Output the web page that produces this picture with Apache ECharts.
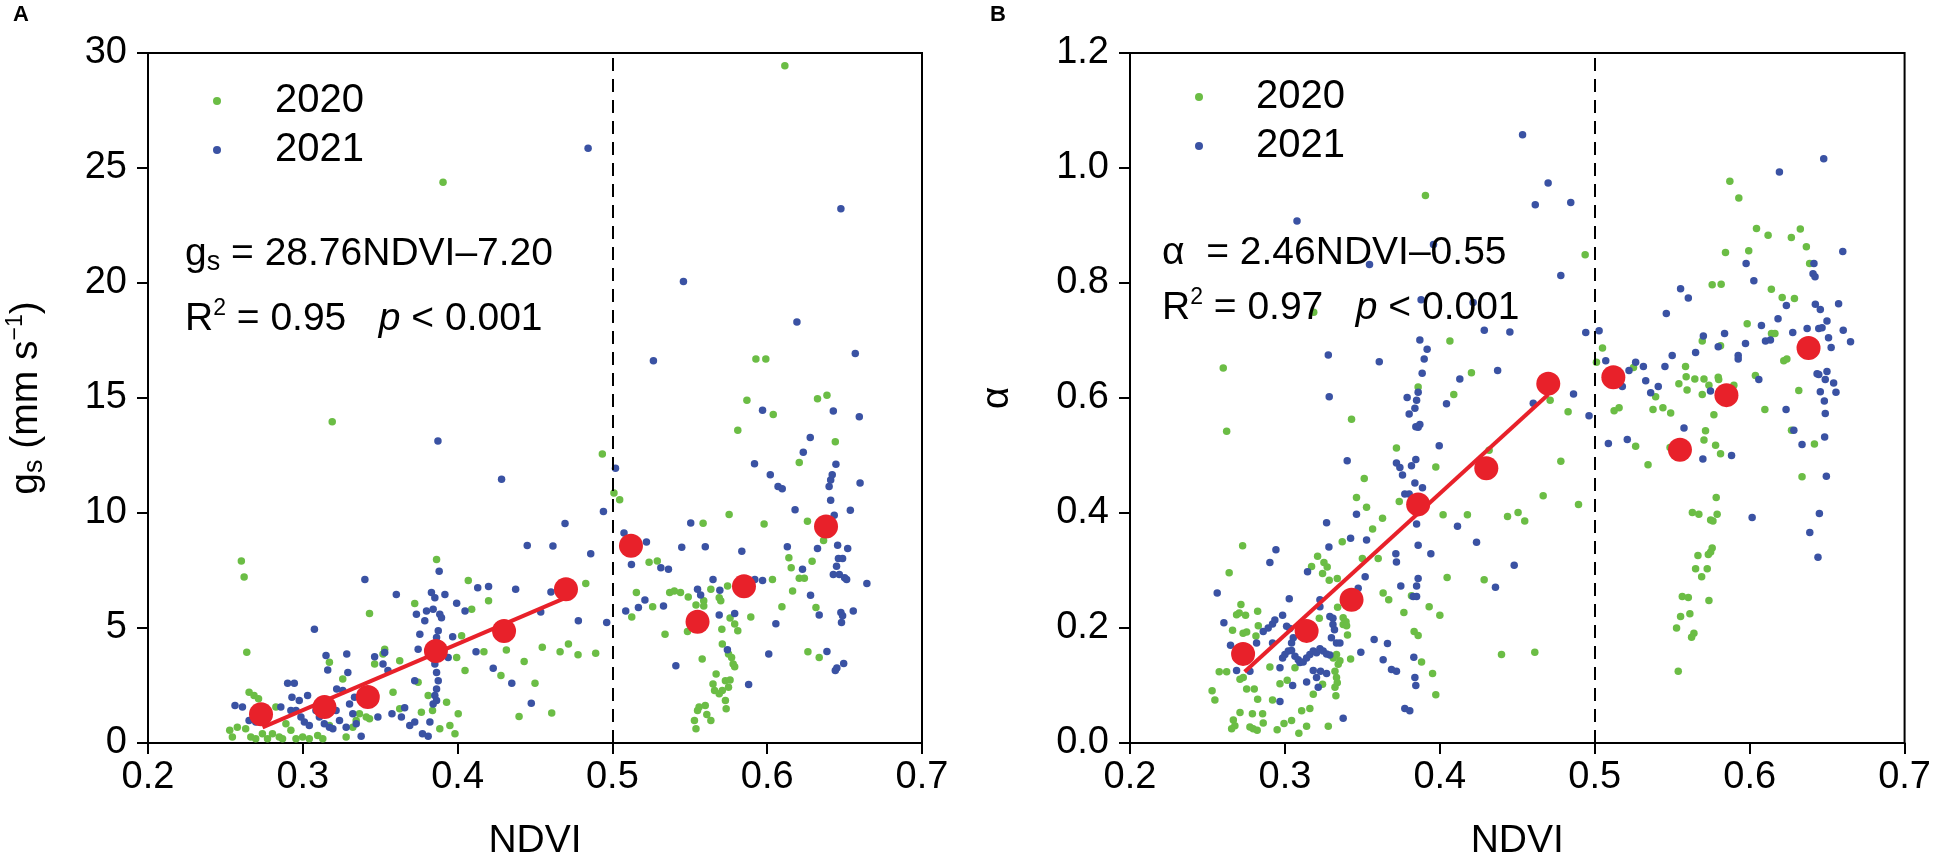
<!DOCTYPE html>
<html>
<head>
<meta charset="utf-8">
<script src="https://cdn.jsdelivr.net/npm/echarts@6/dist/echarts.min.js"></script>
<style>
html, body { margin: 0; padding: 0; background: #fff; }
#chart { width: 1934px; height: 866px; }
</style>
</head>
<body>
<div id="chart"></div>
<script>
// panel A: gs against NDVI, [ndvi, gs]
var gs2020 = [
  [0.2603,7.91],[0.2621,7.22],[0.2638,3.95],[0.2528,0.55],[0.2545,0.26],[0.2577,0.69],[0.2631,0.62],[0.2653,2.21],
  [0.2685,2.06],[0.2714,1.92],[0.2664,0.26],[0.2696,0.19],[0.2739,0.40],[0.2772,0.19],[0.2804,0.40],[0.2848,0.26],
  [0.2869,0.19],[0.2826,1.56],[0.2891,0.84],[0.2923,0.55],[0.2956,0.19],[0.2999,0.26],[0.3042,0.19],[0.3096,0.33],
  [0.3129,0.19],[0.3172,0.76],[0.3172,3.51],[0.3258,2.78],[0.328,0.26],[0.3323,0.69],[0.3345,0.98],[0.3366,1.27],
  [0.341,1.13],[0.3431,1.05],[0.3431,5.63],[0.3464,3.43],[0.3518,3.87],[0.3529,4.08],[0.3583,2.21],[0.3626,3.58],
  [0.3626,1.49],[0.3723,6.06],[0.3745,2.64],[0.3766,1.34],[0.381,2.06],[0.3838,1.41],[0.3864,7.98],[0.3885,0.62],
  [0.3929,1.77],[0.395,0.76],[0.3983,0.40],[0.3994,3.72],[0.4004,1.27],[0.4026,4.66],[0.4048,3.15],[0.4069,7.07],
  [0.4091,5.82],[0.3906,24.38],[0.319,13.97],
  [0.4935,12.57],[0.501,10.87],[0.5047,10.58],[0.4828,6.94],[0.420,6.18],[0.417,3.97],[0.4315,4.04],[0.428,2.93],
  [0.4397,1.15],[0.443,3.54],[0.450,2.6],[0.4547,4.16],[0.4608,1.30],[0.4662,3.97],[0.4716,4.30],[0.4778,3.84],
  [0.4892,3.9],[0.5125,5.48],[0.5155,6.54],[0.5237,7.86],[0.529,7.91],[0.526,5.92],[0.534,4.73],[0.537,6.54],
  [0.540,6.61],[0.544,6.54],[0.549,6.35],[0.5485,4.85],[0.554,6.0],[0.559,6.18],[0.559,5.96],[0.5586,9.55],
  [0.558,3.65],[0.5636,6.68],[0.569,6.32],[0.570,6.18],[0.5707,4.95],[0.5744,6.83],[0.576,5.43],[0.579,5.17],
  [0.581,4.88],[0.571,4.3],[0.575,3.87],[0.577,3.72],[0.578,3.43],[0.579,3.32],[0.567,3.0],[0.565,2.57],
  [0.566,2.28],[0.569,2.14],[0.571,2.28],[0.575,2.42],[0.573,2.71],[0.576,2.74],[0.573,1.85],[0.5735,1.49],
  [0.560,1.63],[0.555,1.41],[0.556,1.56],[0.561,1.24],[0.5636,0.98],[0.553,0.98],[0.554,0.62],[0.5754,9.93],
  [0.5894,5.48],[0.598,9.52],[0.6034,7.11],[0.6095,5.92],[0.614,8.05],[0.6155,7.62],[0.6164,6.61],[0.6207,7.16],
  [0.624,7.16],[0.6207,12.2],[0.626,9.64],[0.629,7.9],[0.6315,5.89],[0.6263,3.97],[0.6336,3.72],[0.6364,8.80],
  [0.644,13.1],[0.6114,29.45],[0.5927,16.7],[0.5991,16.7],[0.5869,14.9],[0.6039,14.28],[0.6325,14.97],[0.6386,15.12],
  [0.581,13.6]
];
var gs2021 = [
  [0.2562,1.63],[0.261,1.56],[0.2653,0.98],[0.2696,0.91],[0.2858,1.56],[0.2902,2.60],[0.2945,2.60],[0.293,1.99],
  [0.2923,1.41],[0.2956,1.41],[0.2977,1.85],[0.2988,1.13],[0.301,0.91],[0.3031,2.06],[0.3042,0.76],[0.3075,4.95],
  [0.3085,1.41],[0.3107,1.13],[0.3139,0.84],[0.315,3.80],[0.3161,3.17],[0.3172,0.69],[0.3194,0.62],[0.3215,1.41],
  [0.3219,2.35],[0.3237,0.98],[0.3258,2.28],[0.328,0.69],[0.3284,3.87],[0.3291,3.07],[0.3302,1.70],[0.3323,1.27],
  [0.3334,1.99],[0.3345,0.84],[0.3377,0.29],[0.3401,7.11],[0.3464,3.75],[0.3485,1.13],[0.3518,3.43],[0.3529,3.94],
  [0.355,3.15],[0.3576,1.27],[0.3604,6.46],[0.3637,1.13],[0.3658,1.53],[0.3691,0.76],[0.3723,0.91],[0.3723,2.71],
  [0.3734,5.60],[0.3745,4.08],[0.3756,4.73],[0.3773,0.40],[0.3788,5.31],[0.3799,5.74],[0.381,0.29],[0.3821,0.91],
  [0.3831,6.54],[0.3842,5.82],[0.3853,6.32],[0.3864,4.59],[0.3875,4.88],[0.3881,7.47],[0.3885,5.60],[0.3896,5.45],
  [0.3918,6.46],[0.3842,3.87],[0.3853,3.43],[0.3864,3.07],[0.3875,2.71],[0.3864,2.35],[0.3853,2.06],[0.3842,1.70],
  [0.3864,1.85],[0.3939,3.72],[0.3968,4.62],[0.3994,6.08],[0.4048,5.74],[0.4119,3.97],[0.413,6.75],[0.3873,13.13],
  [0.4284,11.47],[0.420,6.8],[0.4375,6.68],[0.4537,5.7],[0.4603,6.57],[0.445,8.59],[0.4616,8.56],[0.4694,9.54],
  [0.478,5.31],[0.486,8.23],[0.4942,10.07],[0.4963,5.24],[0.423,3.25],[0.435,2.6],[0.4476,1.73],[0.502,11.95],
  [0.5075,9.13],[0.522,8.74],[0.5123,7.76],[0.5313,7.62],[0.5362,7.55],[0.5086,5.74],[0.5168,5.89],[0.521,6.22],
  [0.533,5.96],[0.541,3.36],[0.5448,8.51],[0.5506,9.57],[0.555,6.68],[0.557,6.44],[0.560,8.53],[0.565,7.11],
  [0.5694,6.64],[0.569,5.56],[0.579,5.63],[0.5743,4.05],[0.5836,8.34],[0.588,2.54],[0.5918,12.14],[0.592,7.11],
  [0.597,7.07],[0.601,3.87],[0.602,11.66],[0.6056,5.19],[0.607,11.15],[0.6097,11.05],[0.613,8.53],[0.618,10.14],
  [0.6228,7.55],[0.6233,12.64],[0.6278,13.28],[0.628,6.42],[0.6325,8.46],[0.6336,5.57],[0.6386,3.98],[0.641,10.55],
  [0.640,11.15],[0.641,11.44],[0.642,11.66],[0.6444,12.12],[0.6433,9.9],[0.6455,8.6],[0.646,8.02],[0.6487,8.02],
  [0.6448,7.69],[0.6427,7.33],[0.6466,7.33],[0.650,7.19],[0.6513,7.11],[0.652,8.46],[0.6537,10.12],[0.6476,5.67],
  [0.6487,5.53],[0.648,5.24],[0.6556,5.74],[0.6494,3.46],[0.644,3.15],[0.645,3.26],[0.660,11.3],[0.6644,6.94],
  [0.4843,25.86],[0.6476,23.23],[0.5459,20.07],[0.6192,18.3],[0.5265,16.62],[0.6569,16.94],[0.597,14.47],[0.6427,14.43],
  [0.6595,14.18]
];
var gsMeans = [
  [0.273,1.25],[0.314,1.56],[0.342,2.0],[0.386,4.0],[0.430,4.87],
  [0.470,6.68],[0.512,8.58],[0.555,5.27],[0.585,6.81],[0.638,9.41]
];
var gsFit = [[0.274,0.68],[0.470,6.32]];

// panel B: alpha against NDVI, [ndvi, alpha]
var alpha2020 = [
  [0.2624,0.542],[0.2727,0.343],[0.264,0.296],[0.253,0.091],[0.2548,0.075],[0.2576,0.124],[0.2624,0.124],[0.2662,0.196],
  [0.2716,0.241],[0.2688,0.223],[0.2705,0.226],[0.2746,0.222],[0.273,0.191],[0.2753,0.193],[0.2824,0.229],[0.2828,0.204],
  [0.2813,0.186],[0.271,0.111],[0.2731,0.114],[0.2753,0.094],[0.2802,0.094],[0.2824,0.076],[0.271,0.053],[0.2667,0.04],
  [0.2677,0.03],[0.2656,0.025],[0.2774,0.028],[0.2795,0.025],[0.2821,0.022],[0.286,0.035],[0.279,0.051],[0.2856,0.051],
  [0.2903,0.132],[0.292,0.075],[0.295,0.023],[0.2968,0.103],[0.2994,0.034],[0.3043,0.039],[0.3015,0.109],[0.3065,0.131],
  [0.3108,0.056],[0.3161,0.06],[0.314,0.029],[0.309,0.017],[0.3172,0.307],[0.3211,0.325],[0.3252,0.314],[0.3273,0.306],
  [0.3243,0.295],[0.3286,0.283],[0.3338,0.286],[0.3222,0.217],[0.328,0.029],[0.3312,0.148],[0.3333,0.154],[0.3344,0.137],
  [0.3355,0.143],[0.3323,0.125],[0.3333,0.114],[0.3338,0.105],[0.3323,0.097],[0.3329,0.082],[0.337,0.35],[0.334,0.236],
  [0.3376,0.218],[0.3394,0.211],[0.3376,0.206],[0.3398,0.204],[0.3404,0.188],[0.3424,0.146],[0.3183,0.085],[0.3243,0.102],
  [0.3462,0.427],[0.3512,0.46],[0.3527,0.41],[0.3566,0.372],[0.35,0.321],[0.3602,0.321],[0.363,0.391],[0.3634,0.261],
  [0.367,0.249],[0.372,0.513],[0.3738,0.42],[0.3768,0.227],[0.3817,0.256],[0.3834,0.194],[0.386,0.187],[0.3882,0.141],
  [0.3931,0.237],[0.3953,0.121],[0.3974,0.084],[0.3974,0.48],[0.4,0.222],[0.4021,0.397],[0.4047,0.288],[0.4178,0.397],
  [0.4286,0.284],[0.4318,0.509],[0.4398,0.154],[0.4437,0.394],[0.4505,0.401],[0.4548,0.386],[0.4613,0.158],[0.4667,0.43],
  [0.4781,0.49],[0.4895,0.415],[0.5264,0.516],[0.5344,0.484],[0.5486,0.514],[0.5715,0.543],[0.5705,0.527],[0.578,0.518],
  [0.5812,0.503],[0.5784,0.427],[0.563,0.401],[0.5672,0.398],[0.579,0.398],[0.5748,0.388],[0.5763,0.386],[0.5758,0.339],
  [0.5748,0.332],[0.5733,0.328],[0.5666,0.326],[0.5651,0.303],[0.5726,0.303],[0.569,0.289],[0.5565,0.255],[0.5604,0.253],
  [0.5737,0.248],[0.5614,0.225],[0.5554,0.22],[0.5528,0.2],[0.564,0.191],[0.5625,0.184],[0.5539,0.125],[0.627,0.544],
  [0.6418,0.52],[0.6338,0.463],
  [0.5758,0.797],[0.5816,0.798],[0.614,0.789],[0.621,0.775],[0.6289,0.773],[0.5984,0.729],[0.6141,0.712],[0.6163,0.712],
  [0.5694,0.699],[0.5812,0.691],[0.505,0.687],[0.5011,0.662],[0.525,0.653],[0.5586,0.655],[0.559,0.637],[0.5646,0.633],
  [0.5705,0.633],[0.5543,0.625],[0.5596,0.614],[0.5737,0.622],[0.5797,0.636],[0.58,0.632],[0.5694,0.606],[0.5898,0.622],
  [0.6037,0.639],[0.622,0.665],[0.624,0.668],[0.6317,0.613],[0.6098,0.58],[0.5125,0.578],[0.5157,0.583],[0.5376,0.58],
  [0.544,0.583],[0.549,0.574],[0.5393,0.602],[0.5769,0.571],[0.4712,0.596],[0.4828,0.576],
  [0.5872,0.977],[0.593,0.948],[0.6044,0.895],[0.6119,0.883],[0.6327,0.894],[0.6269,0.879],[0.6366,0.863],[0.5844,0.853],
  [0.5994,0.856],[0.6387,0.834],[0.4938,0.849],
  [0.3907,0.952],[0.3186,0.749],[0.2602,0.652],[0.343,0.563],[0.4065,0.699],[0.4204,0.644],[0.409,0.606],[0.386,0.619]
];
var alpha2021 = [
  [0.2563,0.261],[0.2606,0.209],[0.2649,0.17],[0.2688,0.126],[0.2774,0.125],[0.2817,0.174],[0.286,0.194],[0.2892,0.2],
  [0.292,0.207],[0.2935,0.214],[0.2903,0.314],[0.2942,0.336],[0.292,0.174],[0.2968,0.131],[0.2985,0.148],[0.3,0.154],
  [0.3022,0.16],[0.3043,0.161],[0.3065,0.151],[0.3086,0.145],[0.3097,0.14],[0.3118,0.141],[0.314,0.148],[0.3161,0.154],
  [0.3183,0.16],[0.3204,0.157],[0.3226,0.164],[0.3247,0.16],[0.3269,0.155],[0.329,0.153],[0.2985,0.222],[0.3011,0.203],
  [0.3032,0.199],[0.3054,0.183],[0.3043,0.174],[0.3028,0.251],[0.305,0.1],[0.2968,0.072],[0.314,0.106],[0.3146,0.298],
  [0.3183,0.126],[0.3215,0.097],[0.3204,0.114],[0.323,0.125],[0.3269,0.121],[0.3226,0.249],[0.3226,0.237],[0.3269,0.383],
  [0.3284,0.341],[0.329,0.22],[0.331,0.217],[0.331,0.206],[0.332,0.197],[0.33,0.183],[0.3333,0.174],[0.3355,0.174],
  [0.3376,0.043],[0.3402,0.491],[0.3424,0.356],[0.3473,0.269],[0.349,0.158],[0.3518,0.289],[0.3527,0.353],[0.3462,0.398],
  [0.3576,0.18],[0.3634,0.145],[0.3662,0.173],[0.3688,0.128],[0.372,0.125],[0.3716,0.329],[0.372,0.315],[0.3748,0.273],
  [0.372,0.487],[0.3742,0.479],[0.3759,0.466],[0.3774,0.433],[0.3802,0.433],[0.3817,0.482],[0.3845,0.493],[0.386,0.549],
  [0.3839,0.452],[0.3888,0.444],[0.385,0.381],[0.386,0.344],[0.386,0.286],[0.385,0.273],[0.3828,0.255],[0.385,0.255],
  [0.3832,0.149],[0.3839,0.114],[0.3845,0.1],[0.3774,0.06],[0.3806,0.056],[0.3942,0.329],[0.3996,0.517],[0.4114,0.377],
  [0.4237,0.349],[0.4359,0.271],[0.448,0.309],
  [0.5088,0.521],[0.521,0.528],[0.5576,0.548],[0.5698,0.494],[0.5883,0.5],[0.6016,0.392],[0.6285,0.544],[0.6338,0.519],
  [0.6484,0.532],[0.6495,0.464],[0.645,0.399],[0.6388,0.366],[0.6441,0.323],
  [0.5554,0.79],[0.5604,0.774],[0.5462,0.747],[0.6027,0.804],[0.6574,0.764],[0.6424,0.763],[0.6456,0.754],[0.6237,0.761],
  [0.6183,0.738],[0.6499,0.734],[0.6076,0.726],[0.6278,0.714],[0.6371,0.721],[0.6446,0.721],[0.6467,0.722],[0.6604,0.718],
  [0.6509,0.705],[0.6526,0.688],[0.6651,0.698],[0.6102,0.699],[0.6134,0.701],[0.5973,0.695],[0.5838,0.712],[0.5701,0.708],
  [0.5797,0.689],[0.5651,0.679],[0.55,0.674],[0.5926,0.674],[0.5926,0.668],[0.5028,0.717],[0.4942,0.714],[0.4287,0.718],
  [0.4452,0.715],[0.5071,0.665],[0.5221,0.648],[0.5264,0.662],[0.5314,0.655],[0.5453,0.655],[0.5329,0.63],[0.5361,0.609],
  [0.541,0.62],[0.5178,0.62],[0.5747,0.612],[0.6059,0.632],[0.6435,0.642],[0.6446,0.641],[0.6499,0.646],[0.6488,0.632],
  [0.6542,0.626],[0.6557,0.61],[0.6456,0.611],[0.6482,0.595],[0.6488,0.573],[0.6235,0.58],[0.4373,0.648],[0.4863,0.607],
  [0.4603,0.591],[0.4963,0.569],
  [0.4534,1.058],[0.4699,0.974],[0.4616,0.936],[0.4845,0.94],[0.4781,0.813],[0.6478,1.016],[0.6192,0.993],[0.6601,0.855],
  [0.5977,0.834],[0.6415,0.834],[0.6409,0.816],[0.6422,0.811],
  [0.3078,0.908],[0.3959,0.867],[0.3546,0.832],[0.3879,0.771],[0.4215,0.766],[0.4129,0.633],[0.4043,0.59],[0.3871,0.701],
  [0.3918,0.685],[0.3899,0.668],[0.3886,0.643],[0.386,0.61],[0.3789,0.601],[0.385,0.596],[0.3839,0.582],[0.3802,0.572],
  [0.3845,0.55],[0.3871,0.554],[0.328,0.675],[0.3609,0.663],[0.3286,0.602]
];
var alphaMeans = [
  [0.273,0.155],[0.314,0.195],[0.343,0.249],[0.386,0.415],[0.430,0.478],
  [0.470,0.625],[0.512,0.636],[0.555,0.510],[0.585,0.605],[0.638,0.687]
];
var alphaFit = [[0.274,0.124],[0.470,0.606]];

var ndviRange = [0.2, 0.7, 0.1];
var gsRange = [0, 30, 5];
var alphaRange = [0, 1.2, 0.2];
var ndviSplit = 0.5;

var FONT = '"Liberation Sans", Arial, sans-serif';
var GREEN = '#6bbd45';
var BLUE = '#3a52a3';
var RED = '#e8212a';

var chart = echarts.init(document.getElementById('chart'));

function xAxisOf(grid) {
  return {
    type: 'value', gridIndex: grid,
    min: ndviRange[0], max: ndviRange[1], interval: ndviRange[2],
    name: 'NDVI', nameLocation: 'middle', nameGap: 79,
    nameTextStyle: { fontSize: 39, fontFamily: FONT, color: '#000' },
    axisLine: { lineStyle: { color: '#000', width: 2 } },
    axisTick: { inside: false, length: 11, lineStyle: { color: '#000', width: 2 } },
    axisLabel: {
      margin: 16, fontSize: 38, fontFamily: FONT, color: '#000',
      showMinLabel: true, showMaxLabel: true,
      formatter: function (v) { return v.toFixed(1); }
    },
    splitLine: { show: false }
  };
}

function yAxisOf(grid, range, digits, name, rich, gap) {
  return {
    type: 'value', gridIndex: grid,
    min: range[0], max: range[1], interval: range[2],
    name: name, nameLocation: 'middle', nameRotate: 90, nameGap: gap,
    nameTextStyle: { fontSize: 39, fontFamily: FONT, color: '#000', rich: rich },
    axisLine: { lineStyle: { color: '#000', width: 2 } },
    axisTick: { inside: false, length: 11, lineStyle: { color: '#000', width: 2 } },
    axisLabel: {
      margin: 21, fontSize: 38, fontFamily: FONT, color: '#000',
      showMinLabel: true, showMaxLabel: true,
      formatter: function (v) { return v.toFixed(digits); }
    },
    splitLine: { show: false }
  };
}

function dots(name, data, color, idx, withSplit) {
  var s = {
    name: name, type: 'scatter', xAxisIndex: idx, yAxisIndex: idx,
    data: data, symbolSize: 7.5, itemStyle: { color: color, opacity: 1 }, z: 2
  };
  if (withSplit) {
    s.markLine = {
      silent: true, symbol: 'none', animation: false,
      label: { show: false },
      lineStyle: { color: '#000', width: 2, type: [13, 8] },
      data: [{ xAxis: ndviSplit }]
    };
  }
  return s;
}

function means(data, idx) {
  return {
    name: 'mean', type: 'scatter', xAxisIndex: idx, yAxisIndex: idx,
    data: data, symbolSize: 24, itemStyle: { color: RED, opacity: 1 }, z: 5
  };
}

function fit(data, idx) {
  return {
    name: 'fit', type: 'line', xAxisIndex: idx, yAxisIndex: idx,
    data: data, showSymbol: false, symbol: 'none',
    lineStyle: { color: RED, width: 4 }, z: 4
  };
}

function legendAt(left, top, pad) {
  return {
    data: ['2020', '2021'], orient: 'vertical', left: left, top: top,
    icon: 'circle', itemWidth: 8, itemHeight: 8, itemGap: 9, selectedMode: false,
    textStyle: { fontSize: 40, lineHeight: 40, fontFamily: FONT, color: '#000', padding: [0, 0, 0, pad] }
  };
}

var big = { fontSize: 39, fontFamily: FONT, fill: '#000', lineHeight: 44 };
var sub = { fontSize: 27, fontFamily: FONT, fill: '#000', lineHeight: 12, verticalAlign: 'bottom' };
var sup = { fontSize: 23, fontFamily: FONT, fill: '#000', lineHeight: 26, verticalAlign: 'top' };
var ital = { fontSize: 39, fontFamily: FONT, fill: '#000', lineHeight: 44, fontStyle: 'italic' };

function eqText(x, y, text) {
  return {
    type: 'text', x: x, y: y, z: 10,
    style: { text: text, rich: { n: big, s: sub, u: sup, p: ital }, verticalAlign: 'middle', align: 'left' }
  };
}

var option = {
  animation: false,
  backgroundColor: '#fff',
  grid: [
    { left: 148, top: 53, width: 774, height: 696, show: true, borderColor: '#000', borderWidth: 2 },
    { left: 1130, top: 53, width: 776, height: 696, show: true, borderColor: '#000', borderWidth: 2 }
  ],
  xAxis: [xAxisOf(0), xAxisOf(1)],
  yAxis: [
    yAxisOf(0, gsRange, 0, '{a|g}{b|s}{a| (mm s}{c|−1}{a|)}', {
      a: { fontSize: 39, fontFamily: FONT, color: '#000', lineHeight: 44 },
      b: { fontSize: 27, fontFamily: FONT, color: '#000', lineHeight: 12, verticalAlign: 'bottom' },
      c: { fontSize: 23, fontFamily: FONT, color: '#000', lineHeight: 26, verticalAlign: 'top' }
    }, 100),
    yAxisOf(1, alphaRange, 1, 'α', {}, 113)
  ],
  legend: [legendAt(208, 76, 49), legendAt(1190, 72, 48)],
  graphic: [
    { type: 'text', x: 13, y: 4, style: { text: 'A', font: 'bold 22px ' + FONT, fill: '#000' } },
    { type: 'text', x: 990, y: 4, style: { text: 'B', font: 'bold 22px ' + FONT, fill: '#000' } },
    eqText(185, 254, '{n|g}{s|s}{n| = 28.76NDVI–7.20}'),
    eqText(185, 319, '{n|R}{u|2}{n| = 0.95   }{p|p}{n| < 0.001}'),
    eqText(1162, 253, '{n|α  = 2.46NDVI–0.55}'),
    eqText(1162, 308, '{n|R}{u|2}{n| = 0.97   }{p|p}{n| < 0.001}')
  ],
  series: [
    dots('2020', gs2020, GREEN, 0, true),
    dots('2021', gs2021, BLUE, 0, false),
    fit(gsFit, 0),
    means(gsMeans, 0),
    dots('2020', alpha2020, GREEN, 1, true),
    dots('2021', alpha2021, BLUE, 1, false),
    fit(alphaFit, 1),
    means(alphaMeans, 1)
  ]
};

chart.setOption(option);
</script>
</body>
</html>
